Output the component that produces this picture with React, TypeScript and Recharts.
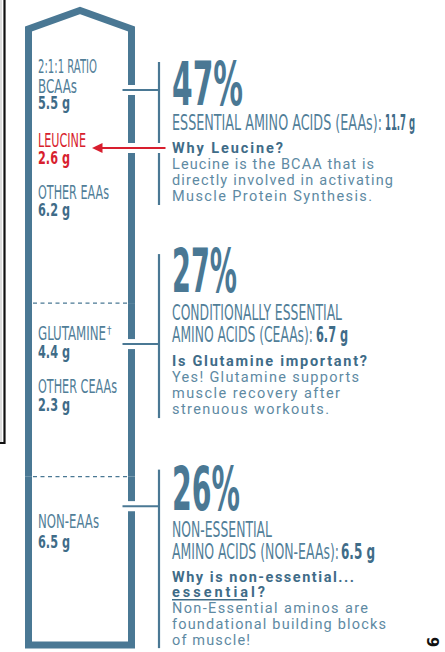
import React from 'react';
import { BarChart, Bar, XAxis, YAxis, Customized } from 'recharts';

// groups, bottom of the column is the last one
const groupKeys = ['eaa', 'ceaa', 'neaa'];
const groupGrams = [11.7, 6.7, 6.5];
const groupPercents = [47, 27, 26];

const eaaLabels = [['2:1:1 RATIO', 'BCAAs'], ['LEUCINE'], ['OTHER EAAs']];
const eaaGrams = [5.5, 2.6, 6.2];
const ceaaLabels = [['GLUTAMINE'], ['OTHER CEAAs']];
const ceaaGrams = [4.4, 2.3];
const neaaLabels = [['NON-EAAs']];
const neaaGrams = [6.5];

const headings = [
  ['ESSENTIAL AMINO ACIDS (EAAs):'],
  ['CONDITIONALLY ESSENTIAL', 'AMINO ACIDS (CEAAs):'],
  ['NON-ESSENTIAL', 'AMINO ACIDS (NON-EAAs):'],
];
const questions = [
  ['Why Leucine?'],
  ['Is Glutamine important?'],
  ['Why is non-essential...', 'essential?'],
];
const answers = [
  ['Leucine is the BCAA that is', 'directly involved in activating', 'Muscle Protein Synthesis.'],
  ['Yes! Glutamine supports', 'muscle recovery after', 'strenuous workouts.'],
  ['Non-Essential aminos are', 'foundational building blocks', 'of muscle!'],
];

const partLabels = [eaaLabels, ceaaLabels, neaaLabels];
const partGrams = [eaaGrams, ceaaGrams, neaaGrams];

const data = [
  Object.fromEntries([['name', 'amino'], ...groupKeys.map((k, i) => [k, groupGrams[i]])]),
];
const total = groupGrams.reduce((a, b) => a + b, 0);

const BLUE = '#4a7894';
const HEAD = '#517e98';
const BODY = '#5e8aa3';
const QUEST = '#3f6c88';
const RED = '#d81e2e';
const NARROW = "'Liberation Sans Narrow', 'DejaVu Sans Condensed', 'Arial Narrow', sans-serif";
const BODYFONT = "Roboto, 'Open Sans', sans-serif";

// offsets from the top of each segment, widths for the text runs
const layouts = [
  {
    pct: 105, pctW: 71, head: 130, headW: [210], valX: 385, valW: 30,
    q: 153, qW: [111], a: 169, aW: [202, 221, 200],
    labelY: [[73, 93], [147], [199]], labelW: [[59, 39], [48], [71]], valueY: [109, 164, 216],
    connector: 90, bracket: [62, 205],
  },
  {
    pct: -11, pctW: 65, head: 17, headW: [170, 141], valX: 316, valW: 32,
    q: 63, qW: [195], a: 79, aW: [187, 168, 157],
    labelY: [[37], [90]], labelW: [[68], [79]], valueY: [55, 108],
    connector: 41, bracket: [-49, 115],
  },
  {
    pct: 33.5, pctW: 68, head: 60.5, headW: [100, 167], valX: 341, valW: 34,
    q: 105.5, qW: [182, 93], a: 136.5, aW: [196, 214, 78],
    labelY: [[51.5]], labelW: [[61]], valueY: [71.5],
    connector: 29.5, bracket: [-7, 171.5],
  },
];

function Segment(props: any) {
  const { x, y, width, height, gi } = props;
  const lay = layouts[gi];
  const left = x;
  const right = x + width;
  const bottom = y + height;
  const bx = right + 27.5;
  const tx = right + 40.5;
  const lx = left + 9.5;
  const conn = y + lay.connector;
  const arrowY = y + 148;

  const gaps = gi === 0 ? [conn, arrowY] : [conn];
  const pieces: number[][] = [];
  let cur = gi === 0 ? y + 29 : y;
  gaps.forEach((g) => {
    pieces.push([cur, g - 5]);
    cur = g + 5;
  });
  pieces.push([cur, bottom]);
  let outline = '';
  if (gi === 0) {
    const first = pieces.shift()!;
    outline = `M${left},${bottom} V${y + 29} L${(left + right) / 2},${y + 10.5} L${right},${y + 29} V${first[1]}`;
  } else if (gi === 2) {
    const last = pieces.pop()!;
    outline = `M${left},${y} V${bottom} H${right} V${last[0]}`;
  } else {
    outline = `M${left},${y} V${bottom}`;
  }

  const bracketParts =
    gi === 0
      ? [[y + lay.bracket[0], arrowY - 5], [arrowY + 5, y + lay.bracket[1]]]
      : [[y + lay.bracket[0], y + lay.bracket[1]]];

  const lastHead = headings[gi].length - 1;

  return (
    <g>
      <path d={outline} fill="none" stroke={BLUE} strokeWidth={7} strokeLinejoin="miter" />
      {pieces.map((p, k) => (
        <line key={k} x1={right} x2={right} y1={p[0]} y2={p[1]} stroke={BLUE} strokeWidth={7} />
      ))}
      {gi > 0 && (
        <line x1={left + 4.5} x2={right - 3.5} y1={y} y2={y} stroke={BLUE} strokeWidth={1.2} strokeDasharray="4 3.5" />
      )}
      <line x1={right - 9} x2={bx} y1={conn} y2={conn} stroke={BLUE} strokeWidth={2} />
      {bracketParts.map((b, k) => (
        <line key={k} x1={bx} x2={bx} y1={b[0]} y2={b[1]} stroke={BLUE} strokeWidth={2.2} />
      ))}
      {gi === 0 && (
        <g>
          <line x1={right + 34} x2={left + 71} y1={arrowY} y2={arrowY} stroke={RED} strokeWidth={2} />
          <polygon
            points={`${left + 63.5},${arrowY} ${left + 74},${arrowY - 5} ${left + 74},${arrowY + 5}`}
            fill={RED}
          />
        </g>
      )}

      {/* labels inside the column */}
      {partLabels[gi].map((lines, pi) => {
        const red = gi === 0 && pi === 1;
        const col = red ? RED : HEAD;
        return (
          <g key={pi}>
            {lines.map((t, li) => (
              <text
                key={li}
                x={lx}
                y={y + lay.labelY[pi][li]}
                fontFamily={NARROW}
                fontSize={19}
                fill={col}
                textLength={lay.labelW[pi][li]}
                lengthAdjust="spacingAndGlyphs"
              >
                {t}
              </text>
            ))}
            {gi === 1 && pi === 0 && (
              <text x={lx + 69} y={y + lay.labelY[pi][0] - 6} fontFamily={NARROW} fontSize={10} fill={col}>
                †
              </text>
            )}
            <text
              x={lx}
              y={y + lay.valueY[pi]}
              fontFamily={NARROW}
              fontWeight={700}
              fontSize={17}
              fill={red ? RED : QUEST}
              textLength={32}
              lengthAdjust="spacingAndGlyphs"
            >
              {`${partGrams[gi][pi]} g`}
            </text>
          </g>
        );
      })}

      {/* right-hand annotation */}
      <text
        x={tx}
        y={y + lay.pct}
        fontFamily={NARROW}
        fontWeight={700}
        fontSize={60}
        fill={BLUE}
        textLength={lay.pctW}
        lengthAdjust="spacingAndGlyphs"
      >
        {`${groupPercents[gi]}%`}
      </text>
      {headings[gi].map((t, k) => (
        <text
          key={k}
          x={tx}
          y={y + lay.head + k * 21.5}
          fontFamily={NARROW}
          fontSize={21}
          fill={HEAD}
          textLength={lay.headW[k]}
          lengthAdjust="spacingAndGlyphs"
        >
          {t}
        </text>
      ))}
      <text
        x={lay.valX}
        y={y + lay.head + lastHead * 21.5}
        fontFamily={NARROW}
        fontWeight={700}
        fontSize={21}
        fill={QUEST}
        textLength={lay.valW}
        lengthAdjust="spacingAndGlyphs"
      >
        {`${groupGrams[gi]} g`}
      </text>
      {questions[gi].map((t, k) => (
        <text
          key={k}
          x={tx}
          y={y + lay.q + k * 15}
          fontFamily={BODYFONT}
          fontWeight={700}
          fontSize={14.5}
          fill={QUEST}
          textLength={lay.qW[k]}
          lengthAdjust="spacing"
        >
          {t}
        </text>
      ))}
      {gi === 2 && (
        <line x1={tx} x2={tx + 75} y1={y + lay.q + 17.5} y2={y + lay.q + 17.5} stroke={QUEST} strokeWidth={1.5} />
      )}
      {answers[gi].map((t, k) => (
        <text
          key={k}
          x={tx}
          y={y + lay.a + k * 16}
          fontFamily={BODYFONT}
          fontSize={14.5}
          fill={BODY}
          textLength={lay.aW[k]}
          lengthAdjust="spacing"
        >
          {t}
        </text>
      ))}
    </g>
  );
}

function PageMarks() {
  return (
    <g>
      <line x1={1} x2={1} y1={0} y2={444} stroke="#bbb" strokeWidth={1} />
      <path d="M4.5,0 V443 H0" fill="none" stroke="#111" strokeWidth={2.2} />
      <text
        x={0}
        y={0}
        transform="translate(439,642) rotate(-90)"
        textAnchor="middle"
        fontFamily="'DejaVu Sans', sans-serif"
        fontWeight={700}
        fontSize={15}
        fill="#111"
      >
        6
      </text>
    </g>
  );
}

export default function App() {
  // bottom-most segment first so it stacks at the base
  const order = [2, 1, 0];
  return (
    <div style={{ position: 'absolute', left: 0, top: 0, width: 445, height: 652, background: '#fff' }}>
      <BarChart
        width={445}
        height={652}
        data={data}
        margin={{ top: 0, right: 313.5, bottom: 7, left: 28.5 }}
        barCategoryGap={0}
        barGap={0}
      >
        <XAxis dataKey="name" hide />
        <YAxis hide domain={[0, total]} />
        {order.map((gi) => (
          <Bar
            key={groupKeys[gi]}
            dataKey={groupKeys[gi]}
            stackId="col"
            isAnimationActive={false}
            shape={(p: any) => <Segment {...p} gi={gi} />}
          />
        ))}
        <Customized component={PageMarks} />
      </BarChart>
    </div>
  );
}
